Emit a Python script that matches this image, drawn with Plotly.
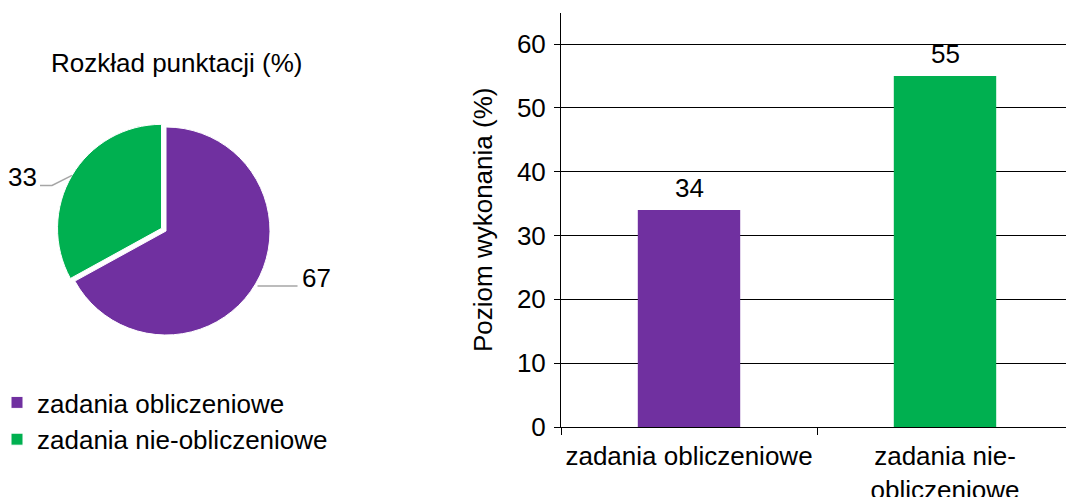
import math
import plotly.graph_objects as go

# ---------------- data ----------------
categories = ["zadania obliczeniowe", "zadania nie-obliczeniowe"]
bar_tick_labels = ["zadania obliczeniowe", "zadania nie-<br>obliczeniowe"]
pie_values = [67, 33]
bar_values = [34, 55]
colors = ["#7030A0", "#00B050"]
pie_title = "Rozkład punktacji (%)"
y_title = "Poziom wykonania (%)"

# ---------------- layout helpers ----------------
W, H = 1066, 497
FONT = "Liberation Sans, Arial, sans-serif"
FS = 26


def fx(px):
    return px / W


def fy(py):
    return 1 - py / H


pulls = [0, 0.05]
pie_cx, pie_cy = 166, 231          # pixel centre of the pie box
pie_r = 104                        # radius of the pie
box = 2 * pie_r * (1 + max(pulls))

fig = go.Figure()

fig.add_trace(go.Pie(
    labels=categories,
    values=pie_values,
    marker=dict(colors=colors, line=dict(color="white", width=1)),
    sort=False,
    direction="clockwise",
    rotation=0,
    pull=pulls,
    textinfo="none",
    hoverinfo="label+value",
    domain=dict(x=[fx(pie_cx - box / 2), fx(pie_cx + box / 2)],
                y=[fy(pie_cy + box / 2), fy(pie_cy - box / 2)]),
    showlegend=True,
))

fig.add_trace(go.Bar(
    x=bar_tick_labels,
    y=bar_values,
    marker=dict(color=colors, line=dict(width=0)),
    width=0.4,
    showlegend=False,
    hoverinfo="x+y",
))

# ---------------- pie leader lines + labels (from data angles) ----------------
shapes = []
annotations = []
total = sum(pie_values)
cum = 0
for v, p in zip(pie_values, pulls):
    mid = (cum + v / 2) / total
    cum += v
    th = 2 * math.pi * mid
    dx, dy = math.sin(th), -math.cos(th)
    sx = pie_cx + (1 + p) * pie_r * dx + (2 if dx > 0 else 0)
    sy = pie_cy + (1 + p) * pie_r * dy + (2 if dx > 0 else 0)
    if dx > 0:
        pts = [(sx, sy), (sx + 40, sy)]
        tx, ty, xa = sx + 42, sy - 8, "left"
    else:
        pts = [(sx, sy), (sx - 20, sy + 10), (sx - 32, sy + 10)]
        tx, ty, xa = sx - 33, sy + 2, "right"
    path = "M " + " L ".join(f"{fx(a):.5f},{fy(b):.5f}" for a, b in pts)
    shapes.append(dict(type="path", xref="paper", yref="paper", path=path,
                       line=dict(color="#A6A6A6", width=1.5)))
    annotations.append(dict(xref="paper", yref="paper", x=fx(tx), y=fy(ty),
                            xanchor=xa, yanchor="middle", text=str(v),
                            showarrow=False, font=dict(size=FS, color="black", family=FONT)))

# pie title
annotations.append(dict(xref="paper", yref="paper", x=fx(176), y=fy(63),
                        xanchor="center", yanchor="middle", text=pie_title,
                        showarrow=False, font=dict(size=FS, color="black", family=FONT)))

# bar value labels
for c, v in zip(bar_tick_labels, bar_values):
    annotations.append(dict(xref="x", yref="y", x=c, y=v, yanchor="bottom",
                            yshift=5, text=str(v), showarrow=False,
                            font=dict(size=FS, color="black", family=FONT)))

# y axis title
annotations.append(dict(xref="paper", yref="paper", x=fx(483), y=fy(220),
                        xanchor="center", yanchor="middle", textangle=-90,
                        text=y_title, showarrow=False,
                        font=dict(size=FS, color="black", family=FONT)))

ax_left, ax_bottom, ax_top = 561, 427, 13
cat_px = 256
y60_px = 44

fig.update_layout(
    template="none",
    width=W, height=H,
    margin=dict(l=0, r=0, t=0, b=0, autoexpand=False),
    paper_bgcolor="white",
    plot_bgcolor="white",
    font=dict(family=FONT, size=FS, color="black"),
    showlegend=True,
    legend=dict(x=fx(-3), y=fy(379), xanchor="left", yanchor="top",
                bgcolor="rgba(0,0,0,0)", font=dict(size=FS, color="black", family=FONT)),
    xaxis=dict(
        domain=[fx(ax_left), 1],
        type="category",
        range=[-0.5, -0.5 + (W - ax_left) / cat_px],
        tickson="boundaries",
        ticks="outside", ticklen=7, tickcolor="black", tickwidth=1,
        showline=True, linecolor="black", linewidth=1,
        showgrid=False, zeroline=False,
        tickangle=0,
        ticklabelstandoff=6,
        tickfont=dict(size=FS, color="black", family=FONT),
        automargin=False,
    ),
    yaxis=dict(
        domain=[fy(ax_bottom), fy(ax_top)],
        range=[0, 60 * (ax_bottom - ax_top) / (ax_bottom - y60_px)],
        tick0=0, dtick=10,
        ticks="outside", ticklen=6, tickcolor="black", tickwidth=1,
        showline=True, linecolor="black", linewidth=1,
        showgrid=True, gridcolor="black", gridwidth=1,
        zeroline=False,
        ticklabelstandoff=3,
        tickfont=dict(size=FS, color="black", family=FONT),
        automargin=False,
    ),
    shapes=shapes,
    annotations=annotations,
)

fig.write_html("out.html",
               config={"displayModeBar": False},
               post_script="document.body.style.margin='0px';document.body.style.overflow='hidden';")
